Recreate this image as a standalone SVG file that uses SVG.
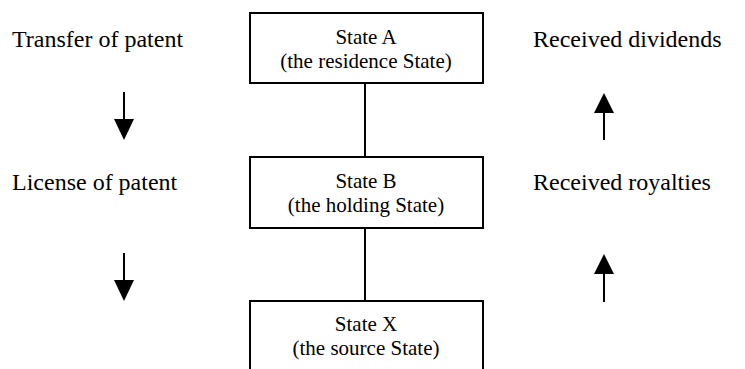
<svg xmlns="http://www.w3.org/2000/svg" width="745" height="369" viewBox="0 0 745 369">
<style>
.box{fill:#fff;stroke:#000;stroke-width:2}
.bt{font-size:21px;text-anchor:middle;fill:#000}
.lb{font-size:24px;fill:#000}
.ln{stroke:#000;stroke-width:2;fill:none}
</style>
<rect width="745" height="369" fill="#fff"/>
<g id="connectors">
<line class="ln" x1="365" y1="83" x2="365" y2="157"/>
<line class="ln" x1="365" y1="228" x2="365" y2="302"/>
<g id="arrow-transfer"><line class="ln" x1="124" y1="92" x2="124" y2="120"/><path d="M114,119 L134,119 L124,140 z"/></g>
<g id="arrow-license"><line class="ln" x1="124" y1="253" x2="124" y2="281"/><path d="M114,280 L134,280 L124,301 z"/></g>
<g id="arrow-dividends"><line class="ln" x1="604" y1="140" x2="604" y2="112"/><path d="M594,113 L614,113 L604,93 z"/></g>
<g id="arrow-royalties"><line class="ln" x1="604" y1="302" x2="604" y2="273"/><path d="M594,274 L614,274 L604,254 z"/></g>
</g>
<g font-family="Liberation Serif, Times New Roman, DejaVu Serif, serif">
<g id="stateA">
<rect class="box" x="250" y="13" width="233" height="70"/>
<text class="bt" x="366" y="44">State A</text>
<text class="bt" x="366" y="68">(the residence State)</text>
</g>
<g id="stateB">
<rect class="box" x="250" y="157" width="233" height="71"/>
<text class="bt" x="366" y="188">State B</text>
<text class="bt" x="366" y="212">(the holding State)</text>
</g>
<g id="stateX">
<rect class="box" x="250" y="301" width="233" height="80"/>
<text class="bt" x="366" y="331">State X</text>
<text class="bt" x="366" y="355">(the source State)</text>
</g>
<g id="labels">
<text class="lb" x="12" y="47">Transfer of patent</text>
<text class="lb" x="12" y="190">License of patent</text>
<text class="lb" x="533" y="47">Received dividends</text>
<text class="lb" x="533" y="190">Received royalties</text>
</g>
</g>
</svg>
